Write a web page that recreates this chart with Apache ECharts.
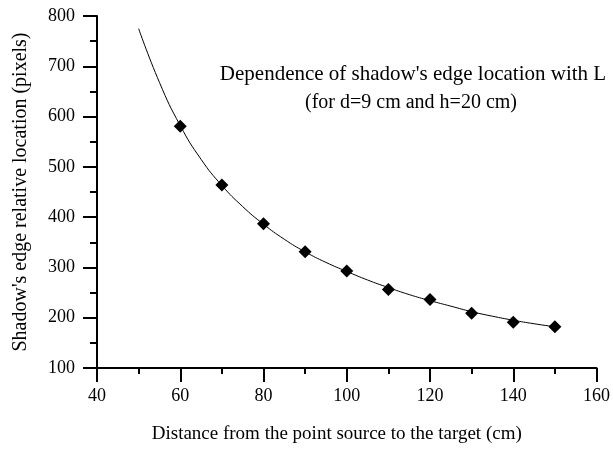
<!DOCTYPE html>
<html>
<head>
<meta charset="utf-8">
<script src="https://cdn.jsdelivr.net/npm/echarts@6/dist/echarts.min.js"></script>
<style>
  html, body { margin: 0; padding: 0; background: #fff; }
  #chart { width: 613px; height: 454px; }
</style>
</head>
<body>
<div id="chart"></div>
<script>
  // measured points
  const distance = [60, 70, 80, 90, 100, 110, 120, 130, 140, 150]
  const edgeLoc = [581, 464, 387, 331, 293, 256, 236, 209, 191, 182]
  // fitted curve
  const curveX = [50, 55, 60, 65, 70, 75, 80, 85, 90, 95, 100, 105, 110, 115, 120, 125, 130, 135, 140, 145, 150]
  const curveY = [775, 668, 582, 515, 463, 421, 386, 356, 331, 310, 292, 275, 260, 246, 234, 223, 212, 203, 195, 188, 182]

  const font = 'Liberation Serif'
  let chart = echarts.init(document.getElementById('chart'))
  const option = {
    animation: false,
    title: [
      {
        text: "Dependence of shadow's edge location with L",
        left: 408, top: 59, textAlign: 'center',
        textStyle: { fontFamily: font, fontSize: 21, fontWeight: 'normal', color: '#000' }
      },
      {
        text: '(for d=9 cm and h=20 cm)',
        left: 406, top: 88, textAlign: 'center',
        textStyle: { fontFamily: font, fontSize: 20, fontWeight: 'normal', color: '#000' }
      }
    ],
    grid: { left: 97, right: 15, top: 16, bottom: 86 },
    xAxis: {
      type: 'value',
      min: 40, max: 160, interval: 20,
      name: 'Distance from the point source to the target (cm)',
      nameLocation: 'middle',
      nameGap: 57,
      nameTextStyle: { fontFamily: font, fontSize: 19, color: '#000', padding: [0, 20, 0, 0] },
      axisLine: { lineStyle: { color: '#000', width: 2 } },
      axisTick: { length: 14, lineStyle: { color: '#000', width: 2 } },
      minorTick: { show: true, splitNumber: 2, length: 6, lineStyle: { color: '#000', width: 2 } },
      axisLabel: { fontFamily: font, fontSize: 18, color: '#000', margin: 19 },
      splitLine: { show: false }
    },
    yAxis: {
      type: 'value',
      min: 100, max: 800, interval: 100,
      name: "Shadow's edge relative location (pixels)",
      nameLocation: 'middle',
      nameGap: 66,
      nameTextStyle: { fontFamily: font, fontSize: 20, color: '#000' },
      axisLine: { lineStyle: { color: '#000', width: 2 } },
      axisTick: { length: 14, lineStyle: { color: '#000', width: 2 } },
      minorTick: { show: true, splitNumber: 2, length: 7, lineStyle: { color: '#000', width: 2 } },
      axisLabel: { fontFamily: font, fontSize: 18, color: '#000', margin: 22 },
      splitLine: { show: false }
    },
    series: [
      {
        name: 'fit',
        type: 'line',
        smooth: true,
        showSymbol: false,
        data: curveX.map((x, i) => [x, curveY[i]]),
        lineStyle: { color: '#000', width: 1 },
        z: 2
      },
      {
        name: 'data',
        type: 'scatter',
        symbol: 'diamond',
        symbolSize: 13,
        data: distance.map((x, i) => [x, edgeLoc[i]]),
        itemStyle: { color: '#000', opacity: 1 },
        z: 3
      }
    ]
  }
  chart.setOption(option)
</script>
</body>
</html>
